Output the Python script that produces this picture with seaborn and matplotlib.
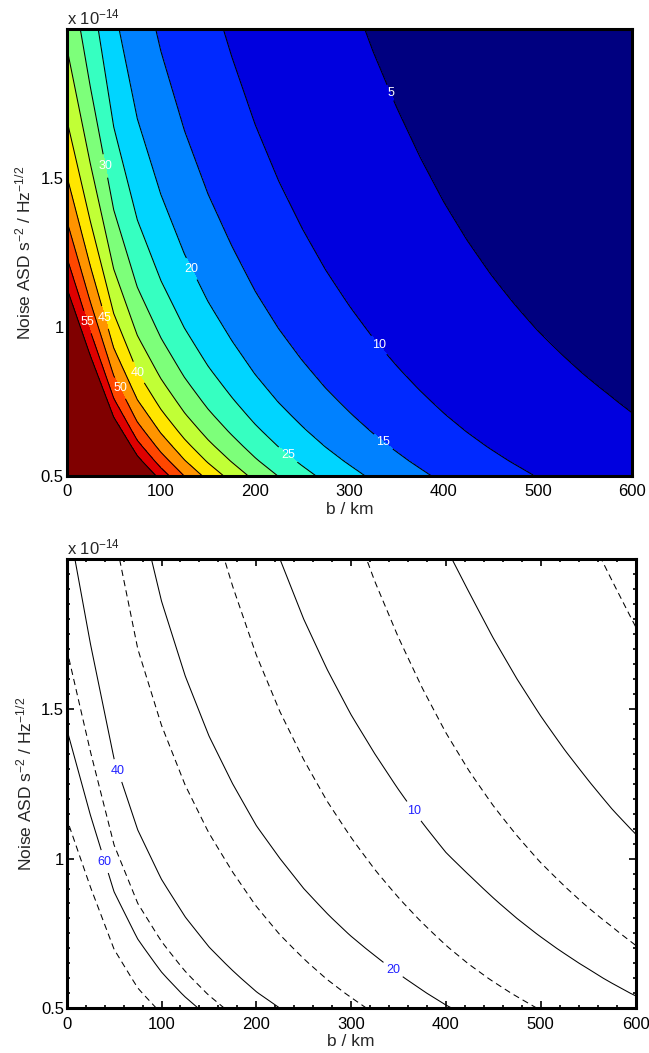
import numpy as np
import matplotlib
matplotlib.use("Agg")
import matplotlib.pyplot as plt
from matplotlib.ticker import MultipleLocator, FuncFormatter
import seaborn as sns

# impact parameter grid (km)
b_km = np.arange(0, 601, 25)
# detection figure at a noise level of 1e-14 s^-2 Hz^-1/2
# estimator A: filled map (top) and dashed lines (bottom)
snr_a = np.array([68.0, 54.3, 41.8, 34.0, 28.9, 24.9, 21.7, 19.1, 16.8, 14.9,
                  13.3, 11.9, 10.7, 9.63, 8.69, 7.85, 7.10, 6.45, 5.88, 5.38,
                  4.93, 4.54, 4.18, 3.86, 3.55])
# estimator B: solid lines (bottom)
snr_b = np.array([86.0, 68.7, 53.3, 43.8, 37.2, 32.2, 28.2, 25.0, 22.2, 20.0,
                  18.0, 16.3, 14.8, 13.5, 12.3, 11.2, 10.2, 9.43, 8.68, 8.0,
                  7.38, 6.82, 6.31, 5.83, 5.41])
# noise ASD axis (units of 1e-14)
noise = np.linspace(0.5, 2.0, 31)

fill_levels = [0, 5, 10, 15, 20, 25, 30, 35, 40, 45, 50, 55, 60]
line_levels = [2, 5, 10, 20, 40, 60]

# label anchor points (b, noise) for each labelled contour
top_labels = {5: (338, 1.78), 10: (329, 0.933), 15: (333, 0.603), 20: (131, 1.193),
              25: (233, 0.564), 30: (39, 1.54), 40: (75, 0.845), 45: (39, 1.03),
              50: (53, 0.788), 55: (22, 1.016)}
bottom_labels = {10: (367, 1.16), 20: (344, 0.628), 40: (54, 1.294), 60: (38, 0.988)}

sns.set_style("ticks")
plt.rcParams["font.family"] = ["Liberation Sans", "DejaVu Sans"]
plt.rcParams["mathtext.default"] = "regular"

z_a = snr_a[None, :] / noise[:, None]
z_b = snr_b[None, :] / noise[:, None]

fig = plt.figure(figsize=(6.49, 10.53), dpi=100)
ax1 = fig.add_axes([0.1026, 0.5482, 0.8718, 0.4238])
ax2 = fig.add_axes([0.1028, 0.0425, 0.8764, 0.4264])

jet = plt.get_cmap("jet")
band_colors = [jet(v) for v in np.linspace(0, 1, len(fill_levels))]

ax1.contourf(b_km, noise, z_a, levels=fill_levels + [1e4], colors=band_colors)


def draw_level(ax, z, lev, style, labels, color):
    cs = ax.contour(b_km, noise, z, levels=[lev], colors="black",
                    linewidths=0.75, linestyles=[style])
    if lev in labels:
        texts = ax.clabel(cs, manual=[labels[lev]], fmt="%d", colors=color,
                          fontsize=9, inline=True, inline_spacing=5)
        for t in texts:
            t.set_rotation(0)
    return cs


for lev in fill_levels[1:]:
    draw_level(ax1, z_a, lev, "solid", top_labels, "white")

for lev in line_levels:
    draw_level(ax2, z_b, lev, "solid", bottom_labels, "#2020ff")
    draw_level(ax2, z_a, lev, (0, (6, 4)), {}, "black")

for ax in (ax1, ax2):
    ax.set_xlim(0, 600)
    ax.set_ylim(0.5, 2.0)
    ax.xaxis.set_major_locator(MultipleLocator(100))
    ax.xaxis.set_minor_locator(MultipleLocator(20))
    ax.yaxis.set_major_locator(MultipleLocator(0.5))
    ax.yaxis.set_minor_locator(MultipleLocator(0.05))
    ax.yaxis.set_major_formatter(FuncFormatter(lambda v, p: "" if v > 1.9 else "%g" % v))
    ax.tick_params(which="both", direction="in", top=True, right=True,
                   colors="black", labelsize=12)
    ax.tick_params(axis="x", pad=6)
    ax.tick_params(axis="y", pad=2)
    ax.tick_params(which="major", length=5, width=1.2)
    ax.tick_params(which="minor", length=2.5, width=1.2)
    for s in ax.spines.values():
        s.set_linewidth(2.2)
        s.set_color("black")
    ax.set_xlabel("b / km", fontsize=12.5, labelpad=2)
    ax.set_ylabel("Noise ASD s$^{-2}$ / Hz$^{-1/2}$", fontsize=12.5, labelpad=5)
    ax.text(0.0, 1.004, "x 10$^{-14}$", transform=ax.transAxes, fontsize=12,
            ha="left", va="bottom")

fig.savefig("out.png", dpi=100)
